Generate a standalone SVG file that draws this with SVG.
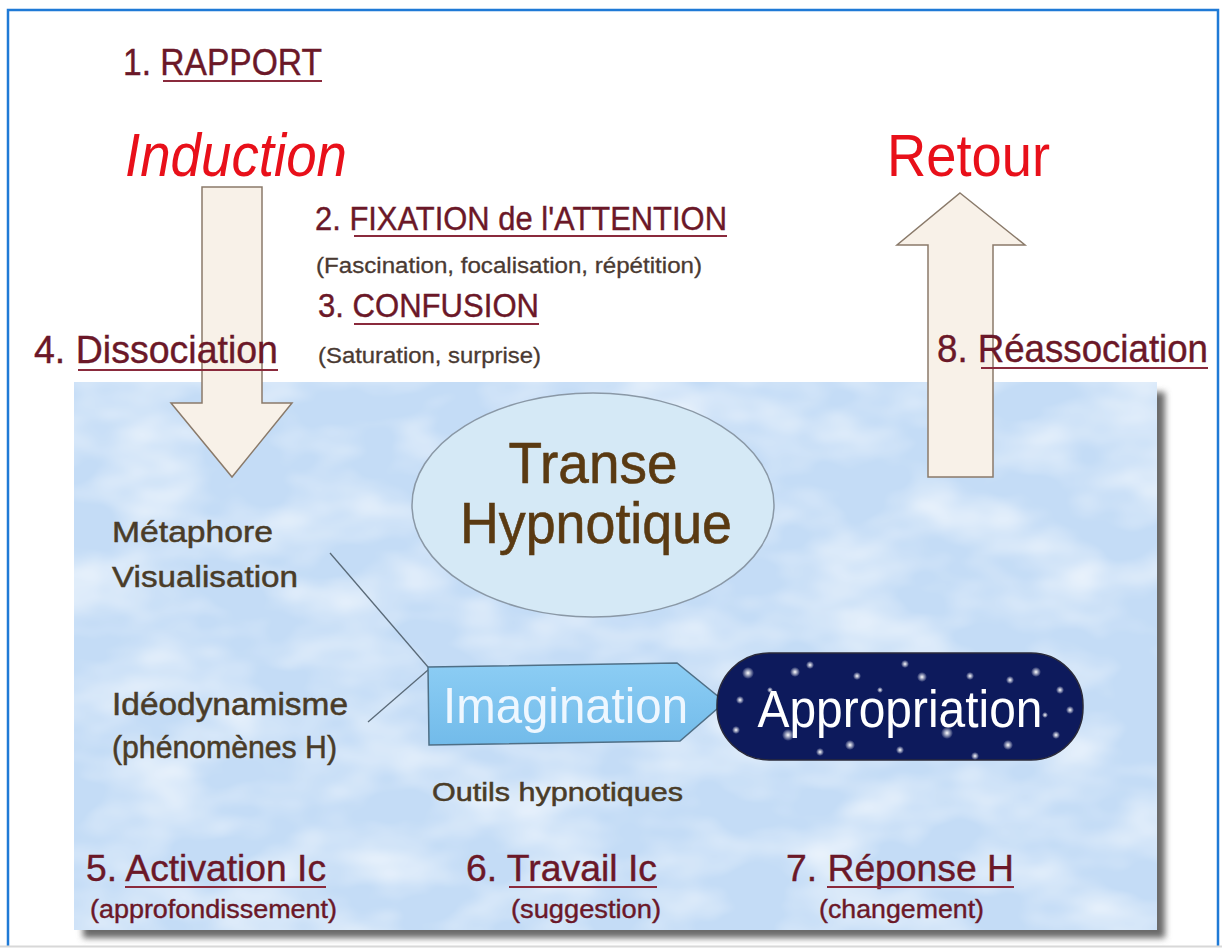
<svg xmlns="http://www.w3.org/2000/svg" width="1222" height="949" viewBox="0 0 1222 949">
<style>
text{font-family:"Liberation Sans",Arial,sans-serif}
.step{fill:#6b1828;stroke:#6b1828;stroke-width:0.4}
.ul{stroke:#8a2a3c;stroke-width:2}
.sub{fill:#4a3a32;stroke:#4a3a32;stroke-width:0.3}
.red{fill:#e8101a}
.brown{fill:#5a3a12;stroke:#5a3a12;stroke-width:0.6}
.olive{fill:#4a3c28;stroke:#4a3c28;stroke-width:0.5}
.arrow{fill:#f8f1e8;stroke:#8a7a6a;stroke-width:1.5}
.conn{stroke:#5a6a78;stroke-width:1.3;fill:none}
</style>
<defs>
<filter id="clouds" x="0" y="0" width="100%" height="100%">
<feTurbulence type="fractalNoise" baseFrequency="0.010 0.018" numOctaves="3" seed="7" result="n"/>
<feColorMatrix in="n" type="matrix" values="0 0 0 0 1  0 0 0 0 1  0 0 0 0 1  0 0 0 1.3 -0.5"/>
<feComposite in2="SourceGraphic" operator="in"/>
</filter>
<filter id="shadow" x="-5%" y="-5%" width="110%" height="110%">
<feGaussianBlur stdDeviation="3"/>
</filter>
<linearGradient id="imgGrad" x1="0" y1="0" x2="0" y2="1">
<stop offset="0" stop-color="#8ccdf4"/>
<stop offset="1" stop-color="#72bbea"/>
</linearGradient>
<radialGradient id="star">
<stop offset="0" stop-color="#ffffff" stop-opacity="1"/>
<stop offset="1" stop-color="#ffffff" stop-opacity="0"/>
</radialGradient>
</defs>

<rect width="1222" height="949" fill="#ffffff"/>
<path d="M8 946 V10 H1218 V946" fill="none" stroke="#1f7ad6" stroke-width="2.5"/>
<line x1="0" y1="946.5" x2="1222" y2="946.5" stroke="#d8d8d8" stroke-width="2"/>

<g id="panel">
<rect x="83" y="392" width="1082" height="546" fill="#6a6a6a" filter="url(#shadow)"/>
<rect x="74" y="382" width="1083" height="548" fill="#c4dcf6"/>
<rect x="74" y="382" width="1083" height="548" fill="#ffffff" filter="url(#clouds)"/>
</g>

<g id="connectors">
<line class="conn" x1="330" y1="553" x2="428" y2="667"/>
<line class="conn" x1="368" y1="722" x2="428" y2="670"/>
</g>

<g id="arrow-induction">
<polygon class="arrow" points="202,187 262,187 262,403 292,403 232,477 171,403 202,403"/>
</g>
<g id="arrow-retour">
<polygon class="arrow" points="960,193 1025,245 993,245 993,477 928,477 928,245 897,245"/>
</g>

<g id="rapport">
<text class="step" x="123" y="75" font-size="36" textLength="199" lengthAdjust="spacingAndGlyphs">1. RAPPORT</text>
<line class="ul" x1="163" y1="81" x2="322" y2="81"/>
</g>
<g id="induction">
<text class="red" x="125" y="176" font-size="62" font-style="italic" textLength="222" lengthAdjust="spacingAndGlyphs">Induction</text>
</g>
<g id="fixation">
<text class="step" x="315" y="230" font-size="34" textLength="412" lengthAdjust="spacingAndGlyphs">2. FIXATION de l'ATTENTION</text>
<line class="ul" x1="354" y1="236" x2="727" y2="236"/>
<text class="sub" x="316" y="273" font-size="22" textLength="386" lengthAdjust="spacingAndGlyphs">(Fascination, focalisation, répétition)</text>
</g>
<g id="confusion">
<text class="step" x="318" y="317" font-size="33" textLength="221" lengthAdjust="spacingAndGlyphs">3. CONFUSION</text>
<line class="ul" x1="354" y1="324" x2="539" y2="324"/>
<text class="sub" x="318" y="363" font-size="22" textLength="223" lengthAdjust="spacingAndGlyphs">(Saturation, surprise)</text>
</g>
<g id="dissociation">
<text class="step" x="34" y="363" font-size="39" textLength="244" lengthAdjust="spacingAndGlyphs">4. Dissociation</text>
<line class="ul" x1="78" y1="370" x2="278" y2="370"/>
</g>
<g id="retour">
<text class="red" x="887" y="176" font-size="60" textLength="163" lengthAdjust="spacingAndGlyphs">Retour</text>
</g>
<g id="reassociation">
<text class="step" x="937" y="362" font-size="38" textLength="271" lengthAdjust="spacingAndGlyphs">8. Réassociation</text>
<line class="ul" x1="981" y1="368" x2="1208" y2="368"/>
</g>

<g id="transe">
<ellipse cx="593" cy="505" rx="181" ry="112" fill="#d5e9f6" stroke="#8a98a6" stroke-width="1.5"/>
<text class="brown" x="593" y="483" font-size="58" text-anchor="middle" textLength="169" lengthAdjust="spacingAndGlyphs">Transe</text>
<text class="brown" x="596" y="543" font-size="58" text-anchor="middle" textLength="272" lengthAdjust="spacingAndGlyphs">Hypnotique</text>
</g>

<g id="metaphore">
<text class="olive" x="112" y="542" font-size="30" textLength="161" lengthAdjust="spacingAndGlyphs">Métaphore</text>
<text class="olive" x="112" y="587" font-size="30" textLength="186" lengthAdjust="spacingAndGlyphs">Visualisation</text>
</g>
<g id="ideodynamisme">
<text class="olive" x="112" y="715" font-size="31" textLength="236" lengthAdjust="spacingAndGlyphs">Idéodynamisme</text>
<text class="olive" x="112" y="758" font-size="31" textLength="225" lengthAdjust="spacingAndGlyphs">(phénomènes H)</text>
</g>

<g id="imagination">
<polygon points="428,667 677,663 725,702 680,741 429,745" fill="url(#imgGrad)" stroke="#4f6f86" stroke-width="1.5"/>
<text x="443" y="723" font-size="50" fill="#eef7ff" textLength="245" lengthAdjust="spacingAndGlyphs">Imagination</text>
</g>

<g id="appropriation">
<rect x="717" y="653" width="366" height="107" rx="52" ry="52" fill="#0d1a5c" stroke="#2a2a3a" stroke-width="1.5"/>
<g fill="url(#star)">
<circle cx="748" cy="673" r="6"/><circle cx="795" cy="672" r="5"/><circle cx="810" cy="665" r="4"/>
<circle cx="857" cy="676" r="4"/><circle cx="905" cy="664" r="4"/><circle cx="922" cy="677" r="5"/>
<circle cx="970" cy="676" r="4"/><circle cx="1010" cy="680" r="4"/><circle cx="1036" cy="672" r="5"/>
<circle cx="1060" cy="690" r="4"/><circle cx="1070" cy="710" r="4"/><circle cx="1056" cy="735" r="4"/>
<circle cx="740" cy="700" r="4"/><circle cx="736" cy="730" r="4"/><circle cx="788" cy="735" r="6"/>
<circle cx="850" cy="745" r="5"/><circle cx="947" cy="733" r="6"/><circle cx="1008" cy="745" r="5"/>
<circle cx="900" cy="750" r="4"/><circle cx="820" cy="752" r="4"/><circle cx="975" cy="756" r="4"/>
<circle cx="770" cy="690" r="3"/><circle cx="880" cy="690" r="3"/><circle cx="1045" cy="715" r="3"/>
</g>
<text x="900" y="727" font-size="51" fill="#ffffff" text-anchor="middle" textLength="285" lengthAdjust="spacingAndGlyphs">Appropriation</text>
</g>

<g id="outils">
<text class="olive" x="432" y="801" font-size="25" textLength="251" lengthAdjust="spacingAndGlyphs">Outils hypnotiques</text>
</g>

<g id="activation">
<text class="step" x="86" y="881" font-size="36" textLength="240" lengthAdjust="spacingAndGlyphs">5. Activation Ic</text>
<line class="ul" x1="125" y1="887" x2="326" y2="887"/>
<text class="step" x="90" y="918" font-size="26" textLength="247" lengthAdjust="spacingAndGlyphs">(approfondissement)</text>
</g>
<g id="travail">
<text class="step" x="466" y="881" font-size="36" textLength="191" lengthAdjust="spacingAndGlyphs">6. Travail Ic</text>
<line class="ul" x1="509" y1="887" x2="657" y2="887"/>
<text class="step" x="511" y="918" font-size="26" textLength="150" lengthAdjust="spacingAndGlyphs">(suggestion)</text>
</g>
<g id="reponse">
<text class="step" x="786" y="881" font-size="36" textLength="228" lengthAdjust="spacingAndGlyphs">7. Réponse H</text>
<line class="ul" x1="827" y1="887" x2="1014" y2="887"/>
<text class="step" x="819" y="918" font-size="26" textLength="165" lengthAdjust="spacingAndGlyphs">(changement)</text>
</g>
</svg>
